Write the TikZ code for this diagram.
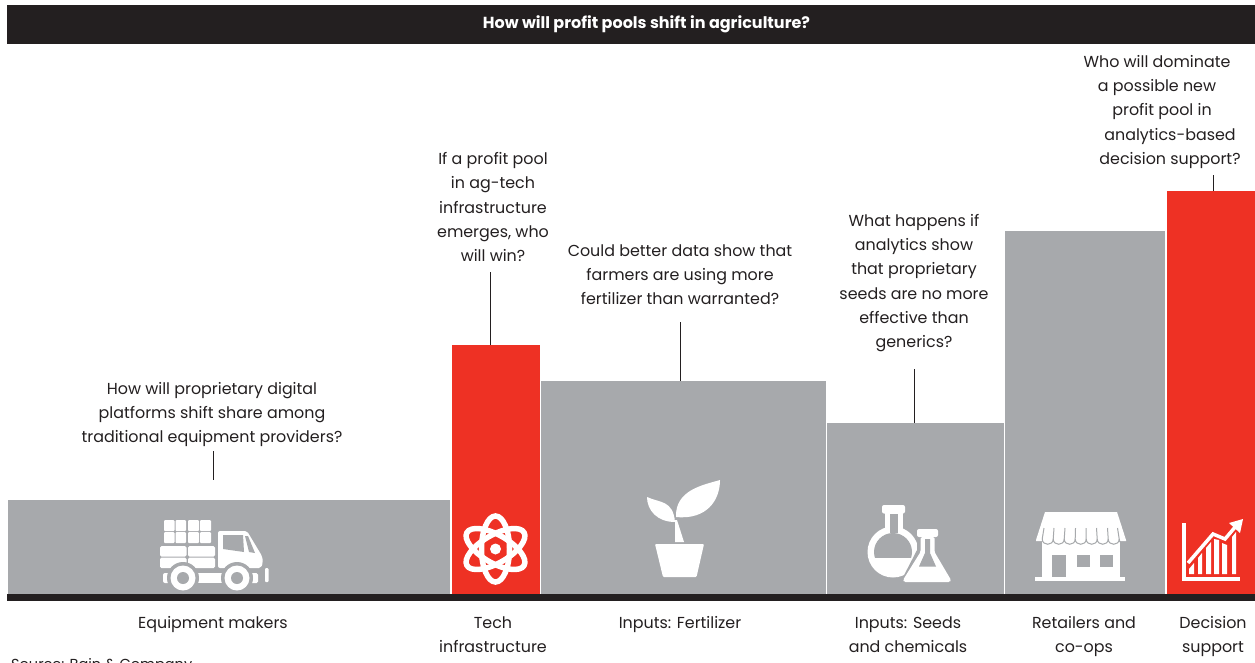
\documentclass[tikz,border=0pt]{standalone}
\usepackage{fontspec}
\setmainfont{Poppins}
\newfontfamily\bodyfont{Poppins}
\definecolor{inkdark}{HTML}{231F20}
\definecolor{barred}{HTML}{EE3124}
\definecolor{bargray}{HTML}{A7A9AC}
\tikzset{
  barbox/.style={inner sep=0pt,outer sep=0pt,anchor=north west,draw=none},
  txt/.style={font=\bodyfont\fontsize{15.9}{24.2}\selectfont,text=inkdark,align=center,inner sep=0pt,outer sep=0pt},
  leader/.style={draw=inkdark,line width=0.7pt},
  icon/.style={fill=white,draw=none},
  cut/.style={fill=bargray,draw=none}
}
\begin{document}
\begin{tikzpicture}[x=1pt,y=-1pt]
\useasboundingbox (0,0) rectangle (1255,662);
\clip (0,0) rectangle (1255,662);
\fill[white] (0,0) rectangle (1255,662);
% header
\node[barbox,fill=inkdark,minimum width=1248pt,minimum height=39pt] (head) at (7,5) {};
\node[font=\bodyfont\bfseries\fontsize{16}{18}\selectfont,text=white,inner sep=0pt] (title) at (646.5,24) {How will profit pools shift in agriculture?};
% bars
\node[barbox,fill=bargray,minimum width=442pt,minimum height=94pt] (eq) at (8,500) {};
\node[barbox,fill=barred,minimum width=88.5pt,minimum height=249pt] (tech) at (451.5,345) {};
\node[barbox,fill=bargray,minimum width=285pt,minimum height=213pt] (fert) at (541,381) {};
\node[barbox,fill=bargray,minimum width=177pt,minimum height=171pt] (seed) at (827,423) {};
\node[barbox,fill=bargray,minimum width=160pt,minimum height=363pt] (ret) at (1005,231) {};
\node[barbox,fill=barred,minimum width=88pt,minimum height=403pt] (dec) at (1167,191) {};
\node[barbox,fill=inkdark,minimum width=1248pt,minimum height=7.5pt] (base) at (7,593.5) {};
% questions
\node[txt] (q1) at (212,414.5) {How will proprietary digital\\platforms shift share among\\traditional equipment providers?};
\node[txt] (q2) at (493,207) {If a profit pool\\in ag-tech\\infrastructure\\emerges, who\\will win?};
\node[txt] (q3) at (680,274.5) {Could better data show that\\farmers are using more\\fertilizer than warranted?};
\node[txt] (q4) at (914,283) {What happens if\\analytics show\\that proprietary\\seeds are no more\\effective than\\generics?};
\node[txt] (q5) at (1170,112) {\hspace*{-26pt}Who will dominate\\\hspace*{-26pt}a possible new\\\hspace*{-16pt}profit pool in\\analytics-based\\decision support?};
% leaders
\coordinate (l1a) at (213,451); \coordinate (l1b) at (213,480);
\coordinate (l2a) at (490,272); \coordinate (l2b) at (490,345);
\coordinate (l3a) at (680,322); \coordinate (l3b) at (680,381);
\coordinate (l4a) at (914,369); \coordinate (l4b) at (914,423);
\coordinate (l5a) at (1213,175); \coordinate (l5b) at (1213,191);
\draw[leader] (l1a) -- (l1b);
\draw[leader] (l2a) -- (l2b);
\draw[leader] (l3a) -- (l3b);
\draw[leader] (l4a) -- (l4b);
\draw[leader] (l5a) -- (l5b);
% category labels
\node[txt,anchor=north] (c1) at (213,616.5) {Equipment makers};
\node[txt,anchor=north] (c2) at (493,616.5) {Tech\\infrastructure};
\node[txt,anchor=north] (c3) at (680,616.5) {Inputs: Fertilizer};
\node[txt,anchor=north] (c4) at (908,616.5) {Inputs: Seeds\\and chemicals};
\node[txt,anchor=north] (c5) at (1084,616.5) {Retailers and\\co-ops};
\node[txt,anchor=north] (c6) at (1213,616.5) {Decision\\support};
\node[font=\bodyfont\fontsize{14.5}{16}\selectfont,text=inkdark,anchor=base west,inner sep=0pt] (src) at (11,669.5) {Source: Bain \& Company};
% truck
\foreach \x/\w in {164/10.5,175.5/10.5,188/11,200/11}
  \foreach \y/\h in {520/11,532/11}
    \fill[icon,rounded corners=1pt] (\x,\y) rectangle ++(\w,\h);
\foreach \x/\w in {160/26.5,188/27}
  \foreach \y/\h in {546/10.5,557.5/10.5}
    \fill[icon,rounded corners=1.5pt] (\x,\y) rectangle ++(\w,\h);
\fill[icon,rounded corners=2pt] (218,531) -- (247,531) -- (262,556) -- (263,562) -- (261,568) -- (218,568) -- cycle;
\fill[cut] (223,535) -- (243,535) -- (244,552) -- (223,549) -- cycle;
\fill[cut] (245,536) -- (248,536) -- (255,553) -- (249,552) -- cycle;
\fill[icon,rounded corners=2pt] (163,573) rectangle (173,583);
\fill[icon] (190,573) rectangle (230,583);
\fill[icon,rounded corners=1.5pt] (245,573) rectangle (258,583);
\fill[icon,rounded corners=1pt] (265,568) rectangle (268.5,582);
\foreach \cx in {183,237} {
  \fill[cut] (\cx,578) circle (16);
  \fill[icon] (\cx,578) circle (12.5);
  \fill[cut] (\cx,578) circle (6);
}
% atom
\foreach \a in {0,60,-60}
  \draw[white,line width=5.5pt,rotate around={\a:(495.5,549)}] (495.5,549) ellipse (14 and 33);
\fill[white] (495.5,549) circle (5.5);
% plant
\fill[icon,rounded corners=1pt] (655,544) -- (704,544) -- (696.5,577) -- (663,577) -- cycle;
\fill[icon] (675,520) -- (677,520) -- (684,542) -- (675,542) -- cycle;
\fill[icon] (676,517) .. controls (675,490) and (703,485) .. (720,480) .. controls (720,500) and (707,520) .. (676,517) -- cycle;
\fill[icon] (647,497) .. controls (660,503) and (673,500) .. (675,522) .. controls (657,522) and (647,510) .. (647,497) -- cycle;
% flasks
\fill[icon,rounded corners=2pt] (882,505) rectangle (905,513.5);
\fill[icon] (885,513) rectangle (903,532);
\fill[icon] (893,552) circle (25.5);
\fill[cut] (889.5,513.5) rectangle (897.5,533);
\begin{scope}
  \clip (860,520) rectangle (930,557);
  \fill[cut] (893,552) circle (19);
\end{scope}
\fill[cut] (917,533) -- (917,550) -- (899,585) -- (955,585) -- (955,533) -- cycle;
\fill[icon,rounded corners=2pt] (917,529) rectangle (938,537);
\fill[icon,rounded corners=1.5pt] (920.5,537) -- (934.5,537) -- (934.5,552) -- (951,580) -- (950,582) -- (904,582) -- (903,580) -- (920.5,552) -- cycle;
\fill[cut] (925,539) -- (930,539) -- (930,553) -- (936,566.5) -- (919,566.5) -- (925,553) -- cycle;
% store
\fill[icon] (1045,512) -- (1117,512) -- (1126,540) -- (1126,541) -- (1036,541) -- (1036,540) -- cycle;
\fill[icon] (1042,540) rectangle (1120,578);
\fill[icon] (1035,577) rectangle (1125,581);
\foreach \i in {0,...,7} {
  \pgfmathsetmacro{\xa}{1042.2+\i*11}
  \pgfmathsetmacro{\xb}{\xa+11}
  \draw[bargray,line width=1pt] (\xa,539) .. controls (\xa,546) and (\xb,546) .. (\xb,539);
}
\foreach \x/\t in {1042.2/1044,1053.2/1054,1064.2/1065,1075.2/1075.5,1086.2/1086,1097.2/1096.5,1108.2/1107.5,1119.2/1117.5}
  \draw[bargray,line width=1pt] (\x,539) -- (\t,528);
\fill[cut] (1052,555) rectangle (1066,577);
\fill[cut] (1077,555) rectangle (1090,567);
\fill[cut] (1100,555) rectangle (1113,567);
% chart
\fill[icon] (1182,523) rectangle (1186,581);
\fill[icon] (1182,577) rectangle (1240,581);
\fill[icon] (1189,569) -- (1194,563) -- (1194,574) -- (1189,574) -- cycle;
\fill[icon] (1198,558) -- (1202,553) -- (1202,574) -- (1198,574) -- cycle;
\fill[icon] (1206,548) -- (1211,542) -- (1211,574) -- (1206,574) -- cycle;
\fill[icon] (1214,539) -- (1219,540) -- (1219,574) -- (1214,574) -- cycle;
\fill[icon] (1222,543) -- (1227,545) -- (1227,574) -- (1222,574) -- cycle;
\fill[icon] (1232,537) -- (1236,532) -- (1236,574) -- (1232,574) -- cycle;
\draw[white,line width=3.5pt] (1188,563) -- (1213,534) -- (1225,539) -- (1236,526);
\fill[icon] (1243,519) -- (1229,523) -- (1240,533) -- cycle;
\end{tikzpicture}
\end{document}
